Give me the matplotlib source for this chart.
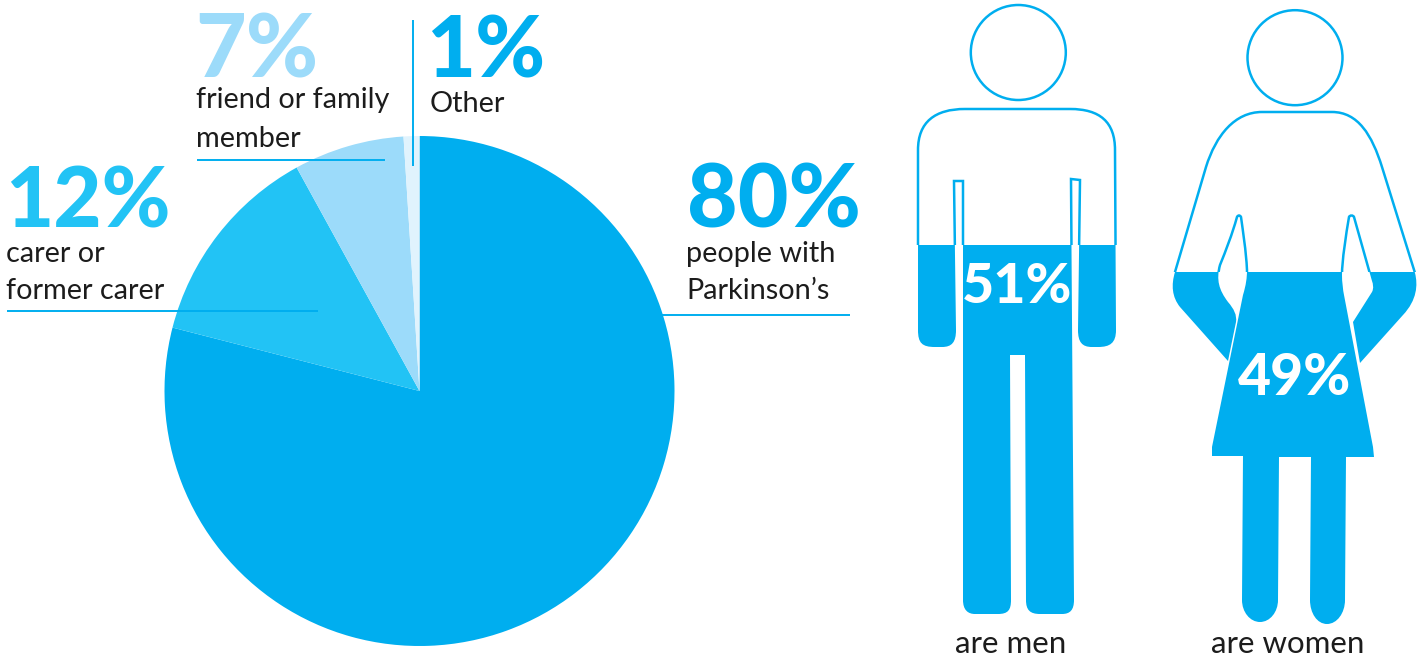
import matplotlib
matplotlib.use("Agg")
import matplotlib.pyplot as plt
from matplotlib.path import Path
from matplotlib.patches import PathPatch, Circle, Rectangle

# ---- data ----
slice_names = ["people with Parkinson's", "carer or former carer", "friend or family member", "Other"]
slice_values = [79, 13, 7, 1]
slice_colors = ["#00AEEF", "#22C3F5", "#9CDBFA", "#E0F3FD"]
pct_labels = ["80%", "12%", "7%", "1%"]
men_pct = "51%"
women_pct = "49%"

W, H = 1424, 657
BLUE = "#00AEEF"
TXT = "#1c1c1c"
DISPLAY = dict(family="Lato", fontweight="black")
BODY = dict(family="Lato", fontweight="normal")

fig = plt.figure(figsize=(W / 100, H / 100), dpi=100, facecolor="white")

# pie on its own axes
cx, cy, R = 419.5, 391, 255
axp = fig.add_axes([(cx - R) / W, 1 - (cy + R) / H, 2 * R / W, 2 * R / H])
axp.pie(slice_values, colors=slice_colors, startangle=90, counterclock=False, radius=1,
        wedgeprops=dict(linewidth=0))
axp.set_xlim(-1, 1)
axp.set_ylim(-1, 1)
axp.axis("off")

# overlay in pixel coordinates
ax = fig.add_axes([0, 0, 1, 1], facecolor="none")
ax.set_xlim(0, W)
ax.set_ylim(H, 0)
ax.axis("off")


def make_path(cmds):
    verts, codes = [], []
    for c in cmds:
        if c[0] == "M":
            verts.append(c[1]); codes.append(Path.MOVETO)
        elif c[0] == "L":
            verts.append(c[1]); codes.append(Path.LINETO)
        elif c[0] == "C":
            verts += [c[1], c[2], c[3]]; codes += [Path.CURVE4] * 3
    verts.append(verts[0]); codes.append(Path.CLOSEPOLY)
    return Path(verts, codes)


man = make_path([
    ("M", (918, 150)), ("C", (918, 122), (935, 109), (965, 109)), ("L", (1070, 109)),
    ("C", (1100, 109), (1115, 122), (1115, 150)), ("L", (1116, 330)),
    ("C", (1116, 343), (1110, 347), (1098, 347)), ("L", (1092, 347)),
    ("C", (1082, 347), (1078, 342), (1078, 330)), ("L", (1080, 180)), ("L", (1071, 179)),
    ("L", (1074, 600)), ("C", (1074, 610), (1070, 614), (1062, 614)), ("L", (1040, 614)),
    ("C", (1030, 614), (1026, 610), (1026, 600)), ("L", (1025, 355)), ("L", (1010, 355)),
    ("L", (1011, 600)), ("C", (1011, 610), (1008, 614), (998, 614)), ("L", (975, 614)),
    ("C", (968, 614), (963, 610), (963, 600)), ("L", (963, 181)), ("L", (954, 181)),
    ("L", (956, 330)), ("C", (956, 342), (952, 347), (942, 347)), ("L", (935, 347)),
    ("C", (922, 347), (918, 343), (918, 330)),
])

woman = make_path([
    ("M", (1262, 112)), ("L", (1332, 112)),
    ("C", (1358, 112), (1372, 135), (1382, 167)), ("L", (1415, 273)),
    ("C", (1418, 285), (1417, 300), (1403, 315)), ("L", (1360, 363)), ("L", (1353, 322)),
    ("L", (1372, 292)), ("C", (1374, 288), (1373, 284), (1372, 281)), ("L", (1354, 217)),
    ("C", (1353, 215), (1350, 215), (1349, 217)), ("C", (1346, 235), (1342, 260), (1342, 275)),
    ("C", (1342, 282), (1343, 290), (1344, 295)), ("L", (1373, 447)), ("L", (1374, 457)),
    ("L", (1346, 457)), ("L", (1345, 600)), ("C", (1345, 613), (1337, 624), (1327, 624)),
    ("C", (1317, 624), (1310, 613), (1310, 600)), ("L", (1311, 457)), ("L", (1279, 457)),
    ("L", (1278, 600)), ("C", (1278, 612), (1270, 622), (1260, 622)),
    ("C", (1250, 622), (1242, 612), (1242, 600)), ("L", (1243, 456)), ("L", (1212, 456)),
    ("L", (1212, 447)), ("L", (1243, 295)), ("C", (1246, 285), (1247, 278), (1247, 270)),
    ("C", (1246, 250), (1243, 232), (1241, 217)), ("C", (1240, 215), (1238, 215), (1237, 217)),
    ("C", (1232, 235), (1226, 250), (1220, 265)), ("C", (1216, 280), (1219, 290), (1228, 302)),
    ("C", (1234, 309), (1237, 315), (1236, 322)), ("L", (1228, 361)), ("L", (1180, 307)),
    ("C", (1172, 297), (1171, 285), (1175, 272)), ("L", (1206, 167)),
    ("C", (1216, 135), (1235, 112), (1262, 112)),
])

LW = 1.8
for shape, level, head in [(man, 245, (1018.3, 52.5)), (woman, 272, (1295, 57.7))]:
    fill = PathPatch(shape, facecolor=BLUE, edgecolor="none", zorder=2)
    ax.add_patch(fill)
    fill.set_clip_path(Rectangle((900, level), 524, H - level, transform=ax.transData))
    line = PathPatch(shape, facecolor="none", edgecolor=BLUE, linewidth=LW, zorder=3)
    ax.add_patch(line)
    line.set_clip_path(Rectangle((900, 0), 524, level, transform=ax.transData))
    ax.add_patch(Circle(head, 47.5, facecolor="none", edgecolor=BLUE, linewidth=LW, zorder=3))

# leader lines
for xs, ys in [((662, 850), (315, 315)), ((7, 318), (311, 311)),
               ((197, 385), (160, 160)), ((413, 413), (20, 166))]:
    ax.plot(xs, ys, color=BLUE, lw=1.4, solid_capstyle="butt", zorder=4)

# big percentages
big = [(pct_labels[0], 687, 228, 63, slice_colors[0]),
       (pct_labels[1], 5, 228, 60, slice_colors[1]),
       (pct_labels[2], 195, 77, 63, slice_colors[2]),
       (pct_labels[3], 426, 78, 61, slice_colors[0])]
for s, x, y, fs, col in big:
    ax.text(x, y, s, color=col, fontsize=fs, va="baseline", ha="left", zorder=5, **DISPLAY)
ax.text(1017, 303, men_pct, color="white", fontsize=40, va="baseline", ha="center", zorder=5, **DISPLAY)
ax.text(1295, 395, women_pct, color="white", fontsize=41, va="baseline", ha="center", zorder=5, **DISPLAY)

# body labels
body = [("people with", 686, 262, 20.8), ("Parkinson\u2019s", 686, 299, 20.8),
        ("carer or", 6, 262, 20.8), ("former carer", 6, 299, 20.8),
        ("friend or family", 196, 108, 20.8), ("member", 196, 147, 20.8),
        ("Other", 430, 112, 20.8), ("are men", 1011, 653, 22.5), ("are women", 1288, 653, 22.5)]
for s, x, y, fs in body:
    ha = "center" if s.startswith("are") else "left"
    ax.text(x, y, s, color=TXT, fontsize=fs, va="baseline", ha=ha, zorder=5, **BODY)

fig.savefig("out.png", dpi=100, facecolor="white")
